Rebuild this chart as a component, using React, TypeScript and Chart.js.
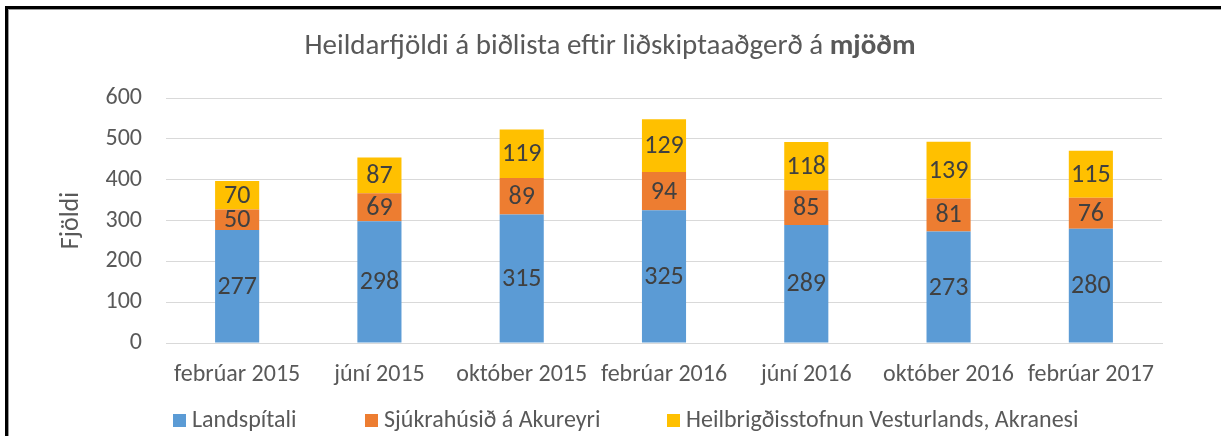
import React, { useEffect, useRef } from "react";
import { Chart, registerables } from "chart.js";

Chart.register(...registerables);

const categories = [
  "febrúar 2015",
  "júní 2015",
  "október 2015",
  "febrúar 2016",
  "júní 2016",
  "október 2016",
  "febrúar 2017",
];
const landspitali = [277, 298, 315, 325, 289, 273, 280];
const akureyri = [50, 69, 89, 94, 85, 81, 76];
const akranes = [70, 87, 119, 129, 118, 139, 115];
const seriesNames = [
  "Landspítali",
  "Sjúkrahúsið á Akureyri",
  "Heilbrigðisstofnun Vesturlands, Akranesi",
];
const seriesColors = ["#5B9BD5", "#ED7D31", "#FFC000"];
const titleNormal = "Heildarfjöldi á biðlista eftir liðskiptaaðgerð á ";
const titleBold = "mjöðm";
const yTitle = "Fjöldi";
const yMax = 600;
const yStep = 100;

const FONT = "Calibri, Carlito, Lato, sans-serif";
const TEXT = "#595959";

const titlePlugin = {
  id: "mixedTitle",
  afterDraw(chart: any) {
    const ctx = chart.ctx;
    ctx.save();
    ctx.fillStyle = TEXT;
    ctx.textBaseline = "middle";
    ctx.font = `29px ${FONT}`;
    const w1 = ctx.measureText(titleNormal).width;
    ctx.font = `bold 29px ${FONT}`;
    const w2 = ctx.measureText(titleBold).width;
    const x0 = 610 - (w1 + w2) / 2;
    const y = 47;
    ctx.textAlign = "left";
    ctx.font = `29px ${FONT}`;
    ctx.fillText(titleNormal, x0, y);
    ctx.font = `bold 29px ${FONT}`;
    ctx.fillText(titleBold, x0 + w1, y);
    ctx.restore();
  },
};

const legendPlugin = {
  id: "fixedLegend",
  afterDraw(chart: any) {
    const ctx = chart.ctx;
    const xs = [173, 365, 667];
    const y = 421;
    ctx.save();
    ctx.font = `24px ${FONT}`;
    ctx.textBaseline = "middle";
    ctx.textAlign = "left";
    chart.data.datasets.forEach((ds: any, i: number) => {
      ctx.fillStyle = ds.backgroundColor;
      ctx.fillRect(xs[i], y - 7, 13, 13);
      ctx.fillStyle = TEXT;
      ctx.fillText(ds.label, xs[i] + 19, y);
    });
    ctx.restore();
  },
};

const valueLabelPlugin = {
  id: "valueLabels",
  afterDatasetsDraw(chart: any) {
    const ctx = chart.ctx;
    ctx.save();
    ctx.font = `26px ${FONT}`;
    ctx.fillStyle = "#404040";
    ctx.textAlign = "center";
    ctx.textBaseline = "middle";
    chart.data.datasets.forEach((ds: any, i: number) => {
      const meta = chart.getDatasetMeta(i);
      meta.data.forEach((bar: any, j: number) => {
        const cy = (bar.y + bar.base) / 2;
        ctx.fillText(String(ds.data[j]), bar.x, cy + 1);
      });
    });
    ctx.restore();
  },
};

export default function App() {
  const ref = useRef<HTMLCanvasElement>(null);

  useEffect(() => {
    if (!ref.current) return;
    const data = [landspitali, akureyri, akranes];
    const chart = new Chart(ref.current, {
      type: "bar",
      data: {
        labels: categories,
        datasets: data.map((d, i) => ({
          label: seriesNames[i],
          data: d,
          backgroundColor: seriesColors[i],
          borderWidth: 0,
          barPercentage: 0.31,
          categoryPercentage: 1,
        })),
      },
      options: {
        responsive: false,
        animation: false,
        layout: { padding: { top: 98, right: 59, left: 0, bottom: 0 } },
        plugins: {
          legend: { display: false },
          title: { display: false },
          tooltip: { enabled: false },
        },
        scales: {
          x: {
            stacked: true,
            grid: { display: false, drawTicks: false },
            border: { display: true, color: "#D9D9D9", width: 1 },
            ticks: {
              color: TEXT,
              font: { family: FONT, size: 24 },
              padding: 18,
              maxRotation: 0,
              autoSkip: false,
            },
            afterFit: (s: any) => {
              s.height = 93;
            },
          },
          y: {
            stacked: true,
            min: 0,
            max: yMax,
            grid: { color: "#D9D9D9", lineWidth: 1, drawTicks: false },
            border: { display: false },
            ticks: {
              stepSize: yStep,
              color: TEXT,
              font: { family: FONT, size: 24 },
              padding: 24,
            },
            title: {
              display: true,
              text: yTitle,
              color: TEXT,
              font: { family: FONT, size: 26 },
              padding: { top: 56, bottom: 0 },
            },
            afterFit: (s: any) => {
              s.width = 166;
            },
          },
        },
      },
      plugins: [titlePlugin, legendPlugin, valueLabelPlugin],
    });
    return () => chart.destroy();
  }, []);

  return (
    <div
      style={{
        position: "fixed",
        left: 0,
        top: 0,
        width: 1221,
        height: 436,
        overflow: "hidden",
        background: "#fff",
      }}
    >
      <div
        style={{
          position: "absolute",
          left: 5,
          top: 6,
          width: 2000,
          height: 2000,
          borderLeft: "3px solid #000",
          borderTop: "3px solid #000",
          boxShadow: "inset 1px 1px 0 #9a9a9a",
        }}
      />
      <canvas
        ref={ref}
        width={1221}
        height={436}
        style={{ position: "absolute", left: 0, top: 0 }}
      />
    </div>
  );
}
